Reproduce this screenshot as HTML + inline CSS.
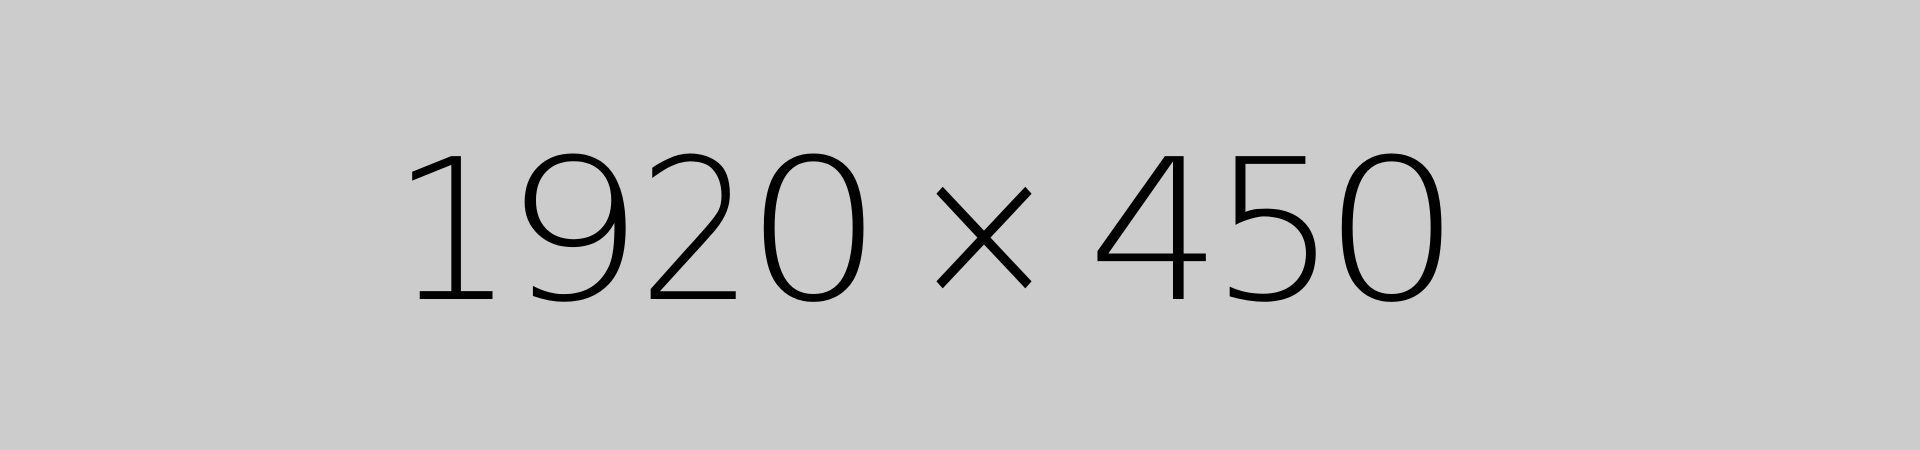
<!DOCTYPE html>
<html>
<head>
<meta charset="utf-8">
<style>
  html, body { margin: 0; padding: 0; }
  body { width: 1920px; height: 450px; background: #cccccc; overflow: hidden; }
  svg { display: block; }
  text { font-family: 'DejaVu Sans', 'Liberation Sans', sans-serif; font-weight: 200; font-size: 196px; fill: #000; text-anchor: middle; }
</style>
</head>
<body>
<svg width="1920" height="450" viewBox="0 0 1920 450" xmlns="http://www.w3.org/2000/svg">
  <rect x="0" y="0" width="1920" height="450" fill="#cccccc"/>
  <g>
    <text transform="translate(453,299) scale(1.0,1)">1</text>
    <text transform="translate(574,299) scale(1.14,1)">9</text>
    <text transform="translate(696,299) scale(0.93,1)">2</text>
    <text transform="translate(814,299) scale(1.12,1)">0</text>
    <text transform="translate(984,299) scale(0.94,1)">×</text>
    <text transform="translate(1155,299) scale(1.09,1)">4</text>
    <text transform="translate(1274,299) scale(1.03,1)">5</text>
    <text transform="translate(1392,299) scale(1.12,1)">0</text>
  </g>
</svg>
</body>
</html>
